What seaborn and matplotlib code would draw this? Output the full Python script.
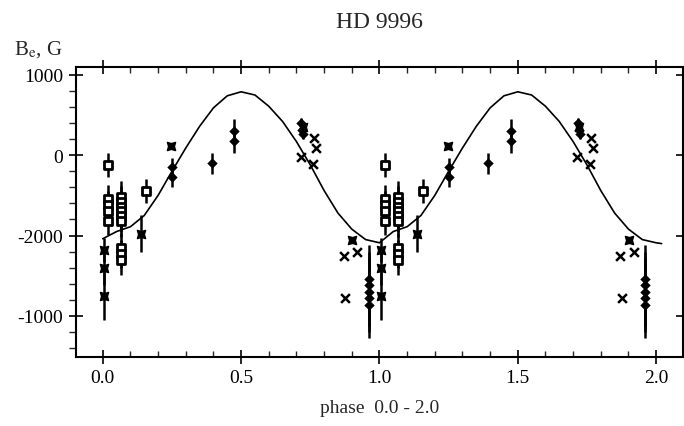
"""HD 9996 longitudinal field vs rotational phase (two cycles)."""

import matplotlib
matplotlib.use("Agg")
import matplotlib.pyplot as plt
from matplotlib.ticker import MultipleLocator, FixedLocator
import numpy as np
import pandas as pd
import seaborn as sns

sns.set_style("ticks")
plt.rcParams["font.family"] = ["Liberation Serif", "DejaVu Serif"]
plt.rcParams["mathtext.fontset"] = "stix"

# fitted curve, one cycle (phase 0..1)
curve_phase = [0.00, 0.05, 0.10, 0.15, 0.20, 0.25, 0.30, 0.35, 0.40, 0.45, 0.50,
               0.55, 0.60, 0.65, 0.70, 0.75, 0.80, 0.85, 0.90, 0.95, 1.00]
curve_be = [-1040, -950, -890, -750, -500, -200, 90, 360, 590, 740, 790,
            750, 610, 420, 170, -120, -440, -720, -920, -1050, -1090]

# open squares
sq_phase = [0.020, 0.020, 0.020, 0.020, 0.020, 0.066, 0.066, 0.066, 0.066,
            0.066, 0.066, 0.066, 0.066, 0.066, 0.156]
sq_be = [-120, -540, -620, -700, -820, -520, -580, -640, -700,
         -760, -820, -1150, -1230, -1310, -440]
sq_err = [150, 170, 170, 170, 170, 200, 200, 200, 200,
          200, 200, 180, 180, 180, 150]

# filled diamonds
dm_phase = [0.252, 0.252, 0.393, 0.474, 0.474, 0.717, 0.720, 0.725,
            0.961, 0.961, 0.961, 0.961, 0.961]
dm_be = [-150, -270, -100, 300, 180, 400, 320, 260,
         -1540, -1620, -1700, -1780, -1860]
dm_err = [120, 120, 130, 150, 150, 60, 60, 60,
          420, 420, 420, 420, 420]

# bow-tie stars
st_phase = [0.006, 0.006, 0.006, 0.137, 0.246, 0.901, 0.722]
st_be = [-1180, -1410, -1750, -975, 120, -1060, 350]
st_err = [150, 200, 300, 230, 0, 0, 0]

# crosses
cr_phase = [0.763, 0.771, 0.715, 0.761, 0.871, 0.919, 0.876]
cr_be = [220, 90, -20, -110, -1250, -1210, -1780]

ytick_pos = [1000, 0, -1000, -2000]
ytick_lab = ["1000", "0", "-2000", "-1000"]
xtick_pos = [0.0, 0.5, 1.0, 1.5, 2.0]


def two_cycles(ph, *cols):
    ph = np.asarray(ph)
    out = [np.concatenate([ph, ph + 1])]
    for c in cols:
        c = np.asarray(c)
        out.append(np.concatenate([c, c]))
    return out


fig = plt.figure(figsize=(6.84, 4.27), dpi=100)
ax = fig.add_axes([0.111, 0.162, 0.8875, 0.679])

# curve over two cycles
cp = np.concatenate([curve_phase, np.asarray(curve_phase[1:]) + 1, [2.02]])
cb = np.concatenate([curve_be, curve_be[1:], [-1100]])
sns.lineplot(x=cp, y=cb, ax=ax, color="black", lw=1.2, sort=False)

groups = [
    ("sq", sq_phase, sq_be, sq_err),
    ("dm", dm_phase, dm_be, dm_err),
    ("st", st_phase, st_be, st_err),
]
frames = []
for kind, ph, be, err in groups:
    p, b, e = two_cycles(ph, be, err)
    frames.append(pd.DataFrame({"phase": p, "be": b, "err": e, "kind": kind}))
p, b = two_cycles(cr_phase, cr_be)
frames.append(pd.DataFrame({"phase": p, "be": b, "err": 0, "kind": "cr"}))
df = pd.concat(frames, ignore_index=True)

eb = df[df["err"] > 0]
ax.vlines(eb["phase"], eb["be"] - eb["err"], eb["be"] + eb["err"],
          color="black", lw=1.8, zorder=2)

sns.scatterplot(data=df[df["kind"] == "sq"], x="phase", y="be", ax=ax,
                marker="s", s=30, facecolor="white", edgecolor="black",
                linewidth=2.0, zorder=3)
sns.scatterplot(data=df[df["kind"] == "dm"], x="phase", y="be", ax=ax,
                marker="D", s=28, color="black", linewidth=0, zorder=3)
sns.scatterplot(data=df[df["kind"] == "st"], x="phase", y="be", ax=ax,
                marker=(4, 1, 45), s=70, color="black", edgecolor="black",
                linewidth=1.0, zorder=3)
sns.scatterplot(data=df[df["kind"] == "cr"], x="phase", y="be", ax=ax,
                marker="x", s=40, color="black", linewidth=1.8, zorder=3)

ax.set_xlim(-0.097, 2.097)
ax.set_ylim(-2510, 1100)
ax.xaxis.set_major_locator(FixedLocator(xtick_pos))
ax.xaxis.set_minor_locator(MultipleLocator(0.1))
ax.set_xticklabels(["0.0", "0.5", "1.0", "1.5", "2.0"])
ax.yaxis.set_major_locator(FixedLocator(ytick_pos))
ax.yaxis.set_minor_locator(MultipleLocator(200))
ax.set_yticklabels(ytick_lab)

ax.tick_params(which="major", direction="inout", length=10, width=1.2,
               top=True, right=True, labelsize=14, pad=4, colors="black")
ax.tick_params(which="minor", direction="out", length=5, width=1.0,
               top=True, right=True)
ax.tick_params(axis="x", which="minor", direction="in", length=4)
for sp in ax.spines.values():
    sp.set_linewidth(1.5)
    sp.set_color("black")

ax.set_xlabel("phase  0.0 - 2.0", fontsize=14, labelpad=9)
ax.set_ylabel("")
ax.set_title("HD 9996", fontsize=17, pad=29)
fig.text(0.020, 0.872, r"B$_{\rm e}$, G", fontsize=15)

fig.savefig("out.png", dpi=100)
